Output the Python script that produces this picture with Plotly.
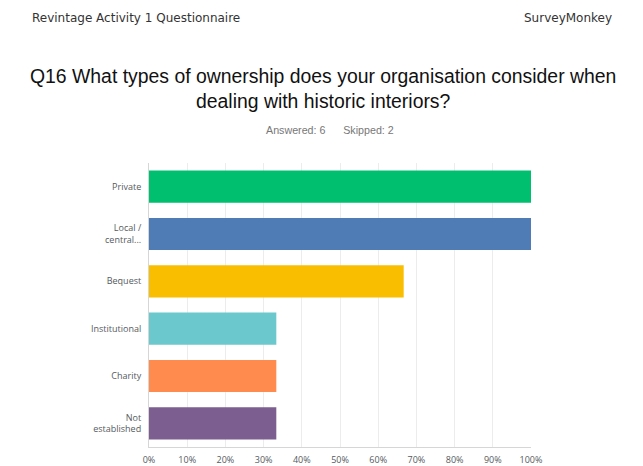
import plotly.graph_objects as go

categories = ["Private", "Local /<br>central...", "Bequest", "Institutional", "Charity", "Not<br>established"]
percentages = [100.0, 100.0, 66.67, 33.33, 33.33, 33.33]
bar_colors = ["#00BF6F", "#507CB6", "#F9BE00", "#6BC8CD", "#FF8B4F", "#7D5E90"]
x_ticks = [0, 10, 20, 30, 40, 50, 60, 70, 80, 90, 100]
x_tick_labels = [f"{v}%" for v in x_ticks]

W, H = 643, 466
L, R, T, B = 149, 112, 163, 19
pw, ph = W - L - R, H - T - B


def px_to_paper(x, y):
    """Convert page pixel coordinates to paper coordinates of the plot area."""
    return (x - L) / pw, (H - B - y) / ph


fig = go.Figure(
    go.Bar(
        x=percentages,
        y=categories,
        orientation="h",
        marker=dict(color=bar_colors, line=dict(width=0)),
        hoverinfo="skip",
    )
)

texts = [
    ("Revintage Activity 1 Questionnaire", 30, 18, "left",
     dict(family="DejaVu Sans, sans-serif", size=12, color="#333333")),
    ("SurveyMonkey", 614, 18, "right",
     dict(family="DejaVu Sans, sans-serif", size=12, color="#333333")),
    ("Q16 What types of ownership does your organisation consider when<br>dealing with historic interiors?",
     323, 88, "center",
     dict(family="Liberation Sans, Arial, sans-serif", size=19.4, color="#111111")),
    ("Answered: 6&nbsp;&nbsp;&nbsp;&nbsp;&nbsp;&nbsp;Skipped: 2", 330, 130, "center",
     dict(family="Liberation Sans, Arial, sans-serif", size=10.7, color="#777777")),
]
annotations = []
for text, x, y, anchor, font in texts:
    px, py = px_to_paper(x, y)
    annotations.append(dict(
        text=text, x=px, y=py, xref="paper", yref="paper",
        xanchor=anchor, yanchor="middle", showarrow=False, font=font,
    ))

fig.update_layout(
    width=W,
    height=H,
    margin=dict(l=L, r=R, t=T, b=B),
    paper_bgcolor="white",
    plot_bgcolor="white",
    bargap=0.32,
    showlegend=False,
    font=dict(family="Open Sans, sans-serif", color="#4a4f55"),
    annotations=annotations,
)

fig.update_xaxes(
    range=[0, 100],
    tickvals=x_ticks,
    ticktext=x_tick_labels,
    showgrid=True,
    gridcolor="#ececec",
    gridwidth=1,
    zeroline=False,
    showline=True,
    linecolor="#d6d6d6",
    linewidth=1,
    ticks="outside",
    ticklen=4,
    tickcolor="rgba(0,0,0,0)",
    tickfont=dict(size=9, color="#555a60"),
    automargin=False,
    fixedrange=True,
)
fig.update_yaxes(
    autorange="reversed",
    showgrid=False,
    zeroline=False,
    showline=True,
    linecolor="#d6d6d6",
    linewidth=1,
    ticks="outside",
    ticklen=5,
    tickcolor="rgba(0,0,0,0)",
    tickfont=dict(size=9, color="#555a60"),
    automargin=False,
    fixedrange=True,
)

fig.write_html("out.html", config={"displayModeBar": False})
